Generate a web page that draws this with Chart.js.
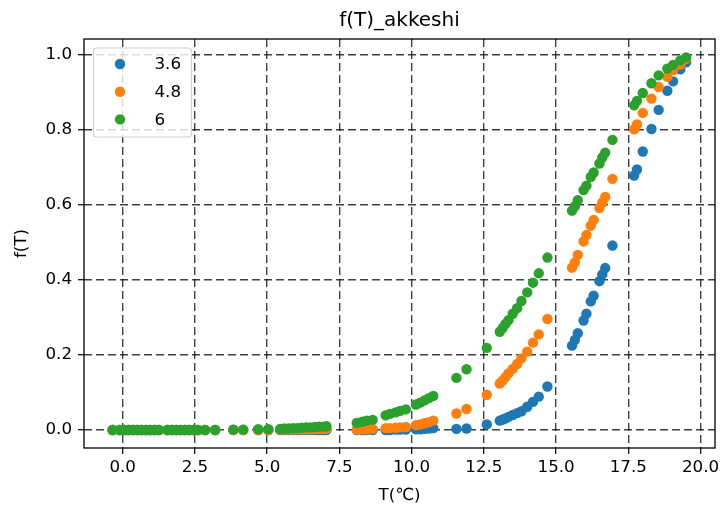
<!DOCTYPE html>
<html>
<head>
<meta charset="utf-8">
<script src="https://cdn.jsdelivr.net/npm/chart.js@4.4.1/dist/chart.umd.min.js"></script>
<style>
  body { margin: 0; background: #fff; }
  #wrap { width: 725px; height: 514px; }
</style>
</head>
<body>
<div id="wrap"><canvas id="fChart" width="725" height="514"></canvas></div>
<script>
// temperature (℃) of every sample, shared by all three series
const temps = [
  -0.35, -0.1, 0.05, 0.2, 0.35, 0.5, 0.65, 0.8, 0.95, 1.1,
  1.25, 1.55, 1.7, 1.85, 2.0, 2.15, 2.3, 2.45, 2.6, 2.85,
  3.2, 3.83, 4.17, 4.69, 5.04, 5.45, 5.6, 5.75, 5.9, 6.05,
  6.2, 6.35, 6.5, 6.65, 6.8, 6.95, 7.05,
  8.1, 8.3, 8.45, 8.65, 9.1, 9.25, 9.45, 9.6, 9.8, 10.15, 10.3, 10.45, 10.6, 10.75,
  11.55, 11.9, 12.6, 13.05, 13.15, 13.25, 13.35, 13.5, 13.65, 13.8, 14.0, 14.2, 14.4, 14.7,
  15.55, 15.65, 15.75, 15.95, 16.05, 16.2, 16.3, 16.5, 16.6, 16.7, 16.95,
  17.7, 17.8, 18.0, 18.3, 18.55, 18.85, 19.05, 19.3, 19.5
];

const f36 = [
  0, 0, 0, 0, 0, 0, 0, 0, 0, 0,
  0, 0, 0, 0, 0, 0, 0, 0, 0, 0,
  0, 0, 0, 0, 0, 0, 0, 0, 0, 0,
  0, 0, 0, 0, 0, 0, 0,
  0, 0, 0, 0, 0, 0, 0.001, 0.001, 0.001, 0.002, 0.002, 0.003, 0.004, 0.005,
  0.003, 0.004, 0.015, 0.025, 0.028, 0.031, 0.035, 0.04, 0.045, 0.05, 0.062, 0.075, 0.089, 0.116,
  0.225, 0.24, 0.258, 0.292, 0.31, 0.343, 0.358, 0.397, 0.415, 0.432, 0.492,
  0.679, 0.695, 0.743, 0.803, 0.854, 0.905, 0.93, 0.962, 0.981
];

const f48 = [
  0, 0, 0, 0, 0, 0, 0, 0, 0, 0,
  0, 0, 0, 0, 0, 0, 0, 0, 0, 0,
  0, 0, 0, 0, 0, 0.001, 0.001, 0.001, 0.001, 0.002,
  0.002, 0.002, 0.002, 0.002, 0.003, 0.003, 0.003,
  0.001, 0.002, 0.002, 0.003, 0.005, 0.005, 0.006, 0.007, 0.008, 0.013, 0.015, 0.018, 0.021, 0.025,
  0.044, 0.056, 0.094, 0.124, 0.132, 0.141, 0.151, 0.163, 0.176, 0.191, 0.209, 0.233, 0.255, 0.296,
  0.433, 0.447, 0.467, 0.503, 0.52, 0.545, 0.56, 0.592, 0.607, 0.622, 0.67,
  0.802, 0.815, 0.846, 0.884, 0.915, 0.942, 0.96, 0.975, 0.99
];

const f60 = [
  0, 0, 0, 0, 0, 0, 0, 0, 0, 0,
  0, 0, 0, 0, 0, 0, 0, 0, 0, 0,
  0, 0.001, 0.001, 0.002, 0.002, 0.003, 0.004, 0.004, 0.005, 0.005,
  0.006, 0.007, 0.007, 0.008, 0.009, 0.009, 0.01,
  0.019, 0.022, 0.025, 0.027, 0.039, 0.043, 0.047, 0.051, 0.055, 0.068, 0.073, 0.079, 0.085, 0.091,
  0.139, 0.162, 0.219, 0.262, 0.272, 0.283, 0.293, 0.31, 0.325, 0.344, 0.367, 0.393, 0.418, 0.46,
  0.585, 0.597, 0.613, 0.64, 0.652, 0.675, 0.687, 0.711, 0.727, 0.74, 0.774,
  0.866, 0.878, 0.899, 0.925, 0.946, 0.964, 0.974, 0.986, 0.994
];

const seriesNames = ['3.6', '4.8', '6'];
const seriesColors = ['#1f77b4', '#ff7f0e', '#2ca02c'];
const seriesValues = [f36, f48, f60];

const xTicks = [0, 2.5, 5, 7.5, 10, 12.5, 15, 17.5, 20];
const yTicks = [0, 0.2, 0.4, 0.6, 0.8, 1.0];

const FONT = "'DejaVu Sans', sans-serif";

const datasets = seriesNames.map((name, i) => ({
  label: name,
  data: temps.map((t, k) => ({ x: t, y: seriesValues[i][k] })),
  backgroundColor: seriesColors[i],
  borderWidth: 0,
  pointRadius: 5.2,
  pointHoverRadius: 5.2,
  order: seriesNames.length - i // later series painted on top
}));

// title over the plot area + frame around it + legend box in the upper left
const decorations = {
  id: 'decorations',
  afterDraw(chart) {
    const { ctx, chartArea: a } = chart;
    ctx.save();

    ctx.strokeStyle = '#000';
    ctx.lineWidth = 1.3;
    ctx.setLineDash([]);
    ctx.strokeRect(a.left, a.top, a.right - a.left, a.bottom - a.top);

    ctx.fillStyle = '#000';
    ctx.font = '20px ' + FONT;
    ctx.textAlign = 'center';
    ctx.textBaseline = 'middle';
    ctx.fillText('f(T)_akkeshi', (a.left + a.right) / 2, 21);

    const bx = a.left + 9.5, by = a.top + 9, bw = 98, bh = 89, r = 3.5;
    ctx.beginPath();
    ctx.roundRect(bx, by, bw, bh, r);
    ctx.fillStyle = 'rgba(255,255,255,0.8)';
    ctx.fill();
    ctx.strokeStyle = '#d0d0d0';
    ctx.lineWidth = 1.2;
    ctx.stroke();

    ctx.font = '16.7px ' + FONT;
    ctx.textAlign = 'left';
    seriesNames.forEach((name, i) => {
      const cy = by + 16 + i * 27.7;
      ctx.beginPath();
      ctx.arc(bx + 26.5, cy, 5.2, 0, Math.PI * 2);
      ctx.fillStyle = seriesColors[i];
      ctx.fill();
      ctx.fillStyle = '#000';
      ctx.fillText(name, bx + 61, cy + 1);
    });

    ctx.restore();
  }
};

const gridStyle = {
  color: 'rgba(0,0,0,0.75)',
  lineWidth: 1.4,
  tickColor: '#000',
  tickLength: 6,
  tickWidth: 1.2,
  tickBorderDash: []
};

new Chart(document.getElementById('fChart'), {
  type: 'scatter',
  data: { datasets },
  options: {
    responsive: false,
    animation: false,
    events: [],
    layout: { padding: { top: 39, right: 10, left: 0, bottom: 0 } },
    plugins: {
      legend: { display: false },
      tooltip: { enabled: false },
      title: { display: false }
    },
    scales: {
      x: {
        type: 'linear',
        min: -1.34,
        max: 20.5,
        afterBuildTicks: axis => { axis.ticks = xTicks.map(v => ({ value: v })); },
        afterFit: axis => { axis.height = 66; },
        grid: gridStyle,
        border: { display: false, dash: [8, 4] },
        ticks: {
          color: '#000',
          padding: 4,
          maxRotation: 0,
          font: { family: FONT, size: 16.7 },
          callback: v => v.toFixed(1)
        },
        title: {
          display: true,
          text: 'T(℃)',
          color: '#000',
          font: { family: FONT, size: 16.7 },
          padding: { top: 0, bottom: 8 }
        }
      },
      y: {
        type: 'linear',
        min: -0.048,
        max: 1.043,
        afterBuildTicks: axis => { axis.ticks = yTicks.map(v => ({ value: v })); },
        afterFit: axis => { axis.width = 84; },
        grid: gridStyle,
        border: { display: false, dash: [8, 4] },
        ticks: {
          color: '#000',
          padding: 6,
          font: { family: FONT, size: 16.7 },
          callback: v => v.toFixed(1)
        },
        title: {
          display: true,
          text: 'f(T)',
          color: '#000',
          font: { family: FONT, size: 16.7 },
          padding: { top: 12, bottom: 0 }
        }
      }
    }
  },
  plugins: [decorations]
});
</script>
</body>
</html>
